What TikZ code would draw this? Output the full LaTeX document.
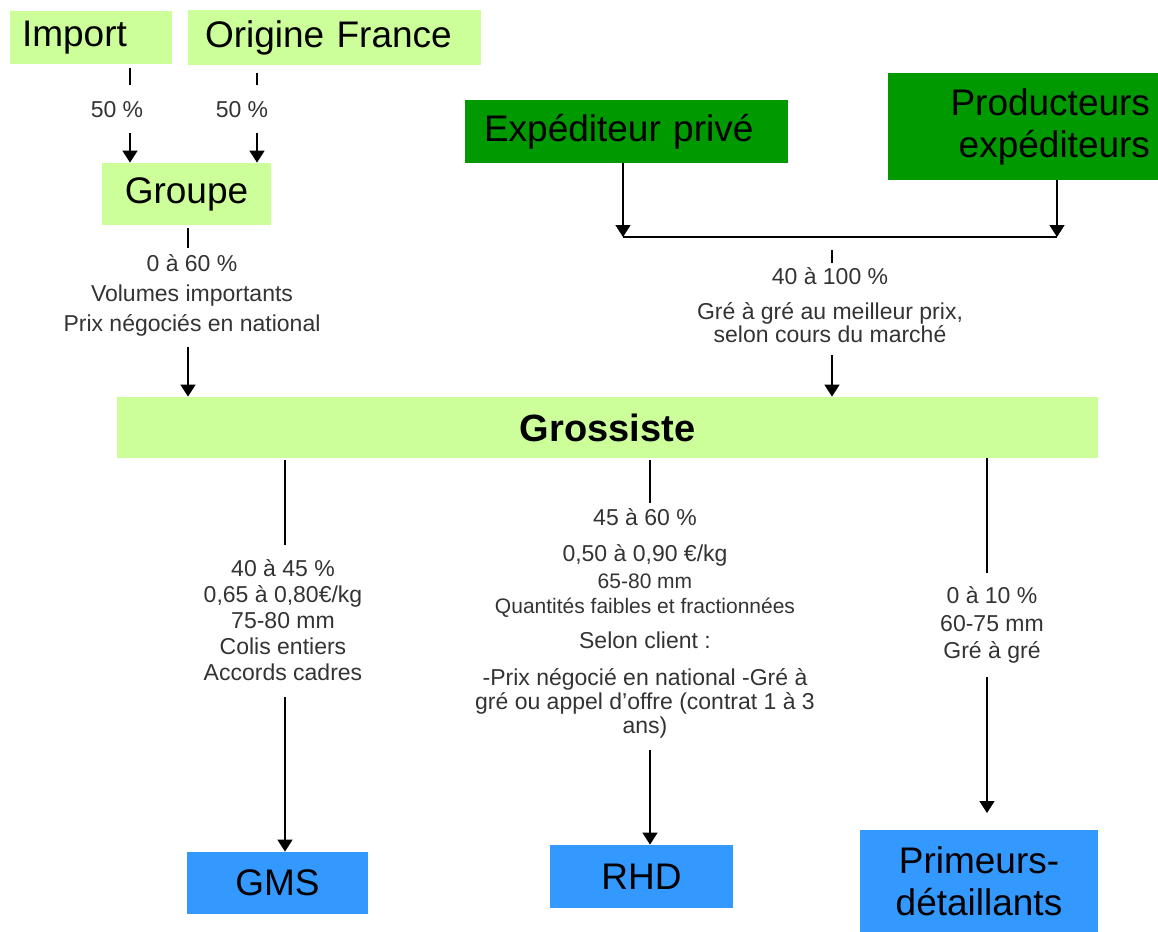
\documentclass[tikz,border=0pt]{standalone}
\usepackage{fontspec}
\setmainfont{Liberation Sans}
\usetikzlibrary{arrows.meta,positioning}

\definecolor{vertclair}{HTML}{CCFF99}
\definecolor{vertfonce}{HTML}{009900}
\definecolor{bleu}{HTML}{3399FF}
\definecolor{gristexte}{HTML}{333333}

\begin{document}
\begin{tikzpicture}[x=0.5pt, y=-0.5pt,
  boite/.style={inner sep=0pt, font=\fontsize{18.5}{21}\selectfont},
  clair/.style={boite, fill=vertclair},
  fonce/.style={boite, fill=vertfonce},
  bleue/.style={boite, fill=bleu, align=center},
  info/.style={align=center, inner sep=0pt, text=gristexte,
    font=\fontsize{11.5}{13}\selectfont},
  trait/.style={line width=0.75pt},
  fleche/.style={trait, -{Triangle[width=7.5pt,length=6pt]}}]

\useasboundingbox (0,0) rectangle (1158,932);

% boites du haut
\node[clair, minimum width=81pt, minimum height=26.5pt, text width=69pt, align=left] (import) at (91,37.5) {Import};
\node[clair, minimum width=146.5pt, minimum height=27.5pt, text width=129.5pt, align=left] (origine) at (334.5,37.5) {Origine France};
\node[clair, minimum width=84.5pt, minimum height=31pt] (groupe) at (186.5,194) {Groupe};
\node[fonce, minimum width=161.5pt, minimum height=31.5pt, text width=142.5pt, align=left] (exped) at (626.5,131.5) {Expéditeur privé};
\node[fonce, minimum width=135pt, minimum height=53.5pt, text width=127pt, align=right] (prod) at (1023,126.5) {Producteurs\\expéditeurs};

% grossiste
\node[clair, minimum width=490.5pt, minimum height=30.5pt, font=\fontsize{19}{21}\selectfont\bfseries] (grossiste) at (607.5,427.5) {Grossiste};

% clients
\node[bleue, minimum width=90.5pt, minimum height=31pt] (gms) at (277.5,883) {GMS};
\node[bleue, minimum width=91.5pt, minimum height=31.5pt] (rhd) at (641.5,876.5) {RHD};
\node[bleue, minimum width=119pt, minimum height=51pt] (prim) at (979,881) {Primeurs-\\détaillants};

% textes des flux
\node[info] (q1) at (117,110) {50 \%};
\node[info] (q2) at (242,110) {50 \%};
\node[info, font=\fontsize{11.5}{15}\selectfont] (q3) at (192,295) {0 à 60 \%\\Volumes importants\\Prix négociés en national};
\node[info, font=\fontsize{11.5}{9.5}\selectfont] (q4) at (830,305) {40 à 100 \%\\[8pt]Gré à gré au meilleur prix,\\selon cours du marché};
\node[info] (q5) at (283,620.5) {40 à 45 \%\\0,65 à 0,80€/kg\\75-80 mm\\Colis entiers\\Accords cadres};
\node[info, font=\fontsize{11.5}{12}\selectfont] (q6) at (645,623.5) {45 à 60 \%\\[6pt]0,50 à 0,90 €/kg\\[1.5pt]{\fontsize{10.5}{12}\selectfont 65-80 mm}\\[0.5pt]{\fontsize{10.5}{12}\selectfont Quantités faibles et fractionnées}\\[5.5pt]Selon client :\\[6.5pt]-Prix négocié en national -Gré à\\gré ou appel d’offre (contrat 1 à 3\\ans)};
\node[info, font=\fontsize{11.5}{13.75}\selectfont] (q7) at (992,625) {0 à 10 \%\\60-75 mm\\Gré à gré};

% Import et Origine France vers Groupe
\coordinate (i1) at (130,68);
\coordinate (i2) at (130,85);
\coordinate (i3) at (130,133);
\draw[trait] (i1) -- (i2);
\draw[fleche] (i3) -- (i3 |- groupe.north);

\coordinate (o1) at (257,73);
\coordinate (o2) at (257,85);
\coordinate (o3) at (257,133);
\draw[trait] (o1) -- (o2);
\draw[fleche] (o3) -- (o3 |- groupe.north);

% Groupe vers Grossiste
\coordinate (g1) at (188,248);
\coordinate (g2) at (188,347);
\draw[trait] (g1 |- groupe.south) ++(0,3) -- (g1);
\draw[fleche] (g2) -- (g2 |- grossiste.north);

% expediteurs vers Grossiste
\coordinate (j1) at (623,237);
\coordinate (j2) at (1057,237);
\draw[fleche] (j1 |- exped.south) -- (j1);
\draw[fleche] (j2 |- prod.south) -- (j2);
\draw[trait] (j1) -- (j2);
\coordinate (e1) at (832,250);
\coordinate (e2) at (832,263);
\coordinate (e3) at (832,355);
\draw[trait] (e1) -- (e2);
\draw[fleche] (e3) -- (e3 |- grossiste.north);

% Grossiste vers GMS
\coordinate (s1) at (285,545);
\coordinate (s2) at (285,697);
\draw[trait] (s1 |- grossiste.south) ++(0,2) -- (s1);
\draw[fleche] (s2) -- (s2 |- gms.north);

% Grossiste vers RHD
\coordinate (r1) at (650,503);
\coordinate (r2) at (650,750);
\draw[trait] (r1 |- grossiste.south) ++(0,2) -- (r1);
\draw[fleche] (r2) -- (r2 |- rhd.north);

% Grossiste vers Primeurs
\coordinate (p1) at (987,573);
\coordinate (p2) at (987,677);
\coordinate (p3) at (987,813);
\draw[trait] (p1 |- grossiste.south) -- (p1);
\draw[fleche] (p2) -- (p3);

\end{tikzpicture}
\end{document}
